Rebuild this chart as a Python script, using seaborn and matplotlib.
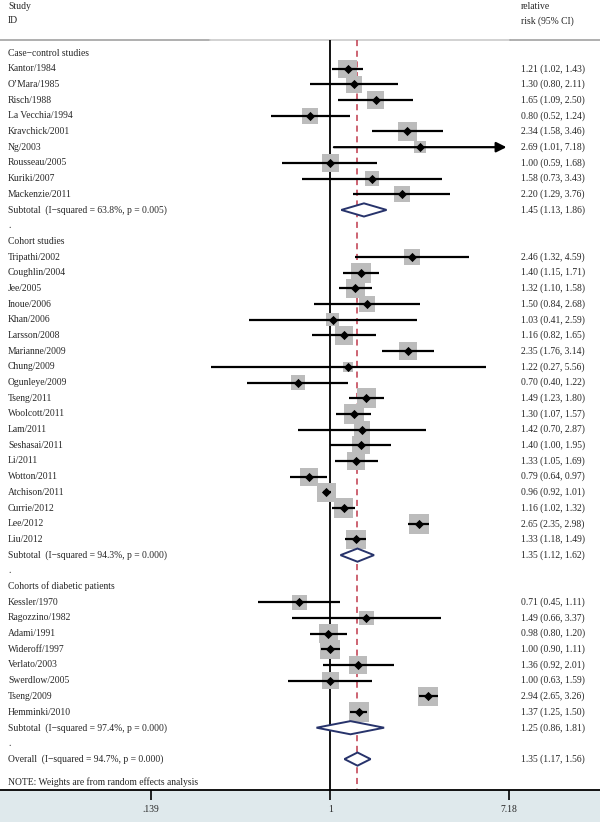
import numpy as np
import pandas as pd
import matplotlib
matplotlib.use("Agg")
import matplotlib.pyplot as plt
import seaborn as sns

cc_names = ["Kantor/1984", "O\u2019Mara/1985", "Risch/1988", "La Vecchia/1994", "Kravchick/2001",
            "Ng/2003", "Rousseau/2005", "Kuriki/2007", "Mackenzie/2011"]
cc_rr = [1.21, 1.30, 1.65, 0.80, 2.34, 2.69, 1.00, 1.58, 2.20]
cc_lo = [1.02, 0.80, 1.09, 0.52, 1.58, 1.01, 0.59, 0.73, 1.29]
cc_hi = [1.43, 2.11, 2.50, 1.24, 3.46, 7.18, 1.68, 3.43, 3.76]
cc_w = [2.9, 2.3, 2.6, 2.3, 2.9, 1.3, 2.6, 1.8, 2.3]
cc_sub = (1.45, 1.13, 1.86, "63.8%", "0.005")

co_names = ["Tripathi/2002", "Coughlin/2004", "Jee/2005", "Inoue/2006", "Khan/2006", "Larsson/2008",
            "Marianne/2009", "Chung/2009", "Ogunleye/2009", "Tseng/2011", "Woolcott/2011", "Lam/2011",
            "Seshasai/2011", "Li/2011", "Wotton/2011", "Atchison/2011", "Currie/2012", "Lee/2012", "Liu/2012"]
co_rr = [2.46, 1.40, 1.32, 1.50, 1.03, 1.16, 2.35, 1.22, 0.70, 1.49, 1.30, 1.42, 1.40, 1.33, 0.79, 0.96, 1.16, 2.65, 1.33]
co_lo = [1.32, 1.15, 1.10, 0.84, 0.41, 0.82, 1.76, 0.27, 0.40, 1.23, 1.07, 0.70, 1.00, 1.05, 0.64, 0.92, 1.02, 2.35, 1.18]
co_hi = [4.59, 1.71, 1.58, 2.68, 2.59, 1.65, 3.14, 5.56, 1.22, 1.80, 1.57, 2.87, 1.95, 1.69, 0.97, 1.01, 1.32, 2.98, 1.49]
co_w = [2.3, 3.6, 3.3, 2.0, 1.5, 2.9, 2.9, 0.9, 1.8, 3.3, 3.3, 2.3, 2.9, 2.9, 2.9, 3.3, 3.3, 3.6, 3.3]
co_sub = (1.35, 1.12, 1.62, "94.3%", "0.000")

db_names = ["Kessler/1970", "Ragozzino/1982", "Adami/1991", "Wideroff/1997", "Verlato/2003",
            "Swerdlow/2005", "Tseng/2009", "Hemminki/2010"]
db_rr = [0.71, 1.49, 0.98, 1.00, 1.36, 1.00, 2.94, 1.37]
db_lo = [0.45, 0.66, 0.80, 0.90, 0.92, 0.63, 2.65, 1.25]
db_hi = [1.11, 3.37, 1.20, 1.11, 2.01, 1.59, 3.26, 1.50]
db_w = [2.0, 1.8, 3.3, 3.3, 2.9, 2.6, 3.3, 3.6]
db_sub = (1.25, 0.86, 1.81, "97.4%", "0.000")

overall = (1.35, 1.17, 1.56, "94.7%", "0.000")

grupos = [("Case\u2212control studies", cc_names, cc_rr, cc_lo, cc_hi, cc_w, cc_sub),
          ("Cohort studies", co_names, co_rr, co_lo, co_hi, co_w, co_sub),
          ("Cohorts of diabetic patients", db_names, db_rr, db_lo, db_hi, db_w, db_sub)]

x_min, x_max = 0.139, 7.18
tick_vals = [0.139, 1, 7.18]
tick_labs = [".139", "1", "7.18"]

# construir filas
estudios = []
subtotales = []
textos = []
fila = 0
for titulo, nombres, rr, lo, hi, w, sub in grupos:
    textos.append((fila, titulo, ""))
    fila += 1
    for n, r, l, h, ww in zip(nombres, rr, lo, hi, w):
        estudios.append(dict(fila=fila, rr=r, lo=l, hi=h, w=ww))
        textos.append((fila, n, f"{r:.2f} ({l:.2f}, {h:.2f})"))
        fila += 1
    subtotales.append((fila, sub[0], sub[1], sub[2]))
    textos.append((fila, f"Subtotal  (I\u2212squared = {sub[3]}, p = {sub[4]})",
                   f"{sub[0]:.2f} ({sub[1]:.2f}, {sub[2]:.2f})"))
    fila += 1
    textos.append((fila, ".", ""))
    fila += 1
subtotales.append((fila, overall[0], overall[1], overall[2]))
textos.append((fila, f"Overall  (I\u2212squared = {overall[3]}, p = {overall[4]})",
               f"{overall[0]:.2f} ({overall[1]:.2f}, {overall[2]:.2f})"))
fila_nota = fila + 1.5

df = pd.DataFrame(estudios)

sns.set_theme(style="white")
plt.rcParams['font.family'] = ['Liberation Serif', 'DejaVu Serif']
fs = 6.9

fig = plt.figure(figsize=(6, 8.22), dpi=100, facecolor="#dfe9ec")
ax = fig.add_axes([0, 32 / 822, 1, 790 / 822])
ax.set_facecolor("white")
ax.set_xscale("log")
px = 90.83
ax.set_xlim(np.exp(-330.2 / px), np.exp((600 - 330.2) / px))
ax.set_ylim(46.97, -3.38)

y_top = -0.85
tr = ax.get_yaxis_transform()

# linea superior gris
ax.plot([0, 0.35], [y_top, y_top], color="#a9a9a9", lw=1.3, transform=tr)
ax.plot([0.35, 0.85], [y_top, y_top], color="#cfcfcf", lw=1.3, transform=tr)
ax.plot([0.85, 1], [y_top, y_top], color="#a9a9a9", lw=1.3, transform=tr)

# lineas verticales
ax.vlines(1, y_top, 47, color="black", lw=1.3)
ax.vlines(overall[0], y_top, 47, color="#c0394b", lw=1.1, linestyles=(0, (4, 3)))

# cuadros de pesos
areas = (np.sqrt(df.w * 115) * 0.72) ** 2
sns.scatterplot(x=df.rr, y=df.fila, s=areas, marker="s", color="#bcbcbc",
                linewidth=0, legend=False, ax=ax, zorder=2)

# intervalos
normal = df[df.hi < x_max]
ax.hlines(normal.fila, normal.lo, normal.hi, color="black", lw=1.6, zorder=3)
for _, r in df[df.hi >= x_max].iterrows():
    ax.annotate("", xy=(x_max, r.fila), xytext=(r.lo, r.fila),
                arrowprops=dict(arrowstyle="-|>,head_length=0.6,head_width=0.3",
                                color="black", lw=1.6, mutation_scale=10), zorder=3)

sns.scatterplot(x=df.rr, y=df.fila, marker="D", s=22, color="black",
                linewidth=0, legend=False, ax=ax, zorder=4)

# diamantes
for f, r, l, h in subtotales:
    ax.fill([l, r, h, r, l], [f, f - 0.42, f, f + 0.42, f], facecolor="white",
            edgecolor="#27336b", lw=1.4, zorder=3)

# textos
for f, izq, der in textos:
    ax.text(0.0133, f, izq, transform=tr, fontsize=fs, va="center", ha="left")
    if der:
        ax.text(0.868, f, der, transform=tr, fontsize=fs, va="center", ha="left")
ax.text(0.0133, fila_nota, "NOTE: Weights are from random effects analysis",
        transform=tr, fontsize=fs, va="center", ha="left")
ax.text(0.0133, -2.95, "Study", transform=tr, fontsize=fs, va="center")
ax.text(0.0133, -2.05, "ID", transform=tr, fontsize=fs, va="center")
ax.text(0.868, -2.95, "relative", transform=tr, fontsize=fs, va="center")
ax.text(0.868, -2.05, "risk (95% CI)", transform=tr, fontsize=fs, va="center")

# ejes
ax.set_xlabel("")
ax.set_ylabel("")
for s in ["top", "left", "right"]:
    ax.spines[s].set_visible(False)
ax.spines["bottom"].set_color("black")
ax.spines["bottom"].set_linewidth(1.3)
ax.set_yticks([])
ax.set_xticks(tick_vals)
ax.set_xticklabels(tick_labs)
ax.minorticks_off()
ax.tick_params(axis="x", direction="out", length=7, width=1.2, color="black",
               labelsize=fs, pad=4, bottom=True)

fig.savefig("out.png", dpi=100, facecolor=fig.get_facecolor())
